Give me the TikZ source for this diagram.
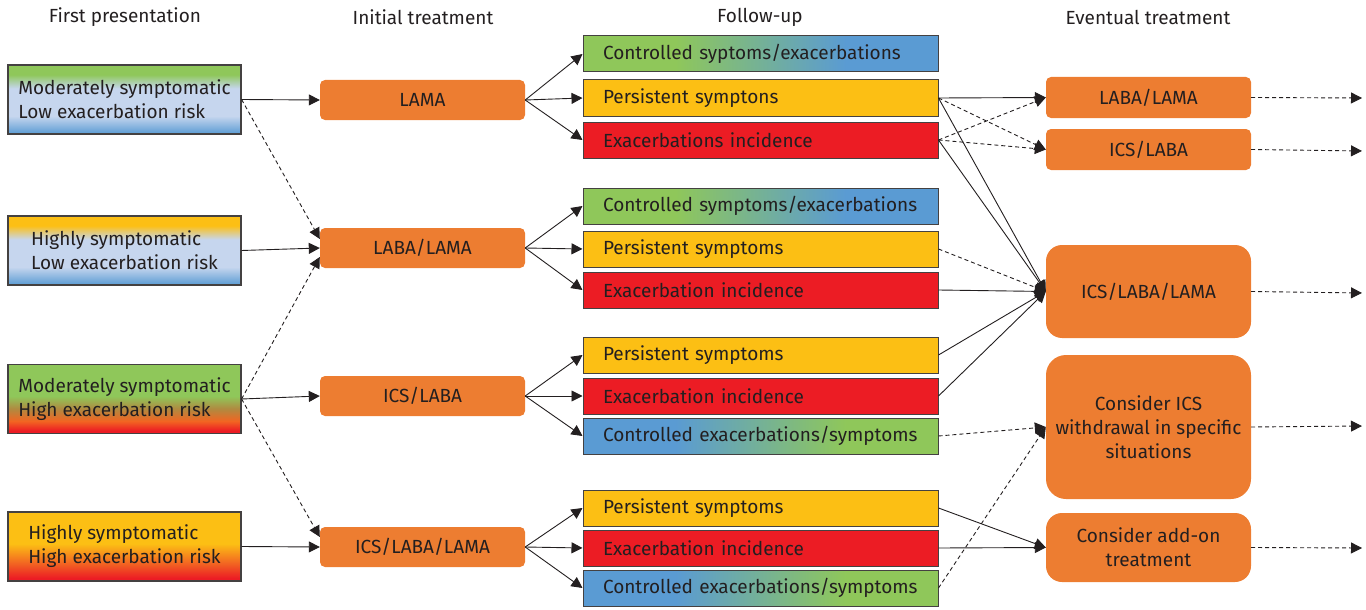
\documentclass[tikz,border=0pt]{standalone}
\usepackage{fontspec}
\setmainfont{Fira Sans}
\usetikzlibrary{calc,arrows.meta}
\definecolor{ink}{HTML}{231F20}
\definecolor{cgreen}{HTML}{8FC75A}
\definecolor{cblue}{HTML}{5A9BD3}
\definecolor{clight}{HTML}{C6D6EE}
\definecolor{cyellow}{HTML}{FCBF14}
\definecolor{cred}{HTML}{EC1C24}
\definecolor{corange}{HTML}{ED7D31}
\definecolor{cbrown}{HTML}{B08A40}
\definecolor{cdeep}{HTML}{F26522}
\pgfdeclareverticalshading{modlow}{100bp}{color(0bp)=(cblue); color(25bp)=(cblue); color(38bp)=(clight); color(58bp)=(clight); color(68bp)=(cgreen); color(100bp)=(cgreen)}
\pgfdeclareverticalshading{highlow}{100bp}{color(0bp)=(cblue); color(25bp)=(cblue); color(38bp)=(clight); color(58bp)=(clight); color(68bp)=(cyellow); color(100bp)=(cyellow)}
\pgfdeclareverticalshading{modhigh}{100bp}{color(0bp)=(cred); color(27bp)=(cred); color(34bp)=(cdeep); color(43bp)=(cbrown); color(52bp)=(cgreen); color(100bp)=(cgreen)}
\pgfdeclareverticalshading{highhigh}{100bp}{color(0bp)=(cred); color(27bp)=(cred); color(38bp)=(cdeep); color(52bp)=(cyellow); color(100bp)=(cyellow)}
\pgfdeclarehorizontalshading{gtob}{100bp}{color(0bp)=(cgreen); color(38bp)=(cgreen); color(62bp)=(cblue); color(100bp)=(cblue)}
\pgfdeclarehorizontalshading{btog}{100bp}{color(0bp)=(cblue); color(38bp)=(cblue); color(62bp)=(cgreen); color(100bp)=(cgreen)}

\begin{document}
\begin{tikzpicture}[x=1pt,y=-1pt,
  every node/.style={font=\fontsize{19}{24}\selectfont, text=ink},
  pres/.style={draw=ink!85, line width=1.2pt, shade, minimum width=233pt, minimum height=69pt, align=left, inner sep=0pt},
  fup/.style={draw=ink!85, line width=1pt, minimum width=355pt, minimum height=36pt, text width=315pt, inner xsep=20pt, inner ysep=0pt, align=left},
  trt/.style={fill=corange, rounded corners=5pt, minimum width=205pt, minimum height=40pt, inner sep=0pt, align=center},
  arr/.style={draw=ink, line width=0.9pt, -{Triangle[length=11pt,width=11pt]}},
  dsh/.style={arr, dash pattern=on 4pt off 3pt}]
\useasboundingbox (0,0) rectangle (1366,610);

% column titles
\node (h1) at (125,17) {First presentation};
\node (h2) at (423,17) {Initial treatment};
\node (h3) at (760,17) {Follow-up};
\node (h4) at (1148,17) {Eventual treatment};

% first presentation
\node[pres, shading=modlow] (p1) at (124.5,99.5) {Moderately symptomatic\\Low exacerbation risk};
\node[pres, shading=highlow] (p2) at (124.5,250.5) {Highly symptomatic\\Low exacerbation risk};
\node[pres, shading=modhigh] (p3) at (124.5,399) {Moderately symptomatic\\High exacerbation risk};
\node[pres, shading=highhigh] (p4) at (124.5,546.5) {Highly symptomatic\\High exacerbation risk};

% initial treatment
\node[trt] (i1) at (422.5,100) {LAMA};
\node[trt] (i2) at (422.5,248) {LABA/LAMA};
\node[trt] (i3) at (422.5,396) {ICS/LABA};
\node[trt] (i4) at (422.5,547) {ICS/LABA/LAMA};

% follow-up
\node[fup, shade, shading=gtob] (a1) at (760.5,54) {Controlled syptoms/exacerbations};
\node[fup, fill=cyellow] (a2) at (760.5,98) {Persistent symptons};
\node[fup, fill=cred] (a3) at (760.5,140) {Exacerbations incidence};
\node[fup, shade, shading=gtob] (b1) at (760.5,206) {Controlled symptoms/exacerbations};
\node[fup, fill=cyellow] (b2) at (760.5,249) {Persistent symptoms};
\node[fup, fill=cred] (b3) at (760.5,290) {Exacerbation incidence};
\node[fup, fill=cyellow] (c1) at (760.5,355) {Persistent symptoms};
\node[fup, fill=cred] (c2) at (760.5,396) {Exacerbation incidence};
\node[fup, shade, shading=btog] (c3) at (760.5,436) {Controlled exacerbations/symptoms};
\node[fup, fill=cyellow] (d1) at (760.5,508) {Persistent symptoms};
\node[fup, fill=cred] (d2) at (760.5,548) {Exacerbation incidence};
\node[fup, shade, shading=btog] (d3) at (760.5,588) {Controlled exacerbations/symptoms};

% eventual treatment
\node[trt, minimum height=41pt] (e1) at (1148.5,97.5) {LABA/LAMA};
\node[trt, minimum height=41pt] (e2) at (1148.5,149.5) {ICS/LABA};
\node[trt, minimum height=93pt, rounded corners=16pt] (e3) at (1148.5,291.5) {ICS/LABA/LAMA};
\node[trt, minimum height=144pt, rounded corners=20pt] (e4) at (1148.5,427) {Consider ICS\\withdrawal in specific\\situations};
\node[trt, minimum height=69pt, rounded corners=16pt] (e5) at (1148.5,547.5) {Consider add-on\\treatment};

\foreach \e/\y in {1/98,2/151,3/293,4/426,5/548}
  \coordinate (r\e) at (1362,\y);

\foreach \k in {1,2,3,4}
  \draw[arr] (p\k.east) -- (i\k.west);
\draw[dsh] (p1.east) -- ($(i2.west)+(0,-9)$);
\draw[dsh] (p3.east) -- ($(i2.west)+(0,9)$);
\draw[dsh] (p3.east) -- ($(i4.west)+(0,-10)$);

\foreach \k/\f in {1/a,2/b,3/c,4/d}
  \foreach \j in {1,2,3}
    \draw[arr] (i\k.east) -- (\f\j.west);

\foreach \s/\t in {a2/e1,a2/e3,a3/e3,b3/e3,c1/e3,c2/e3,d1/e5,d2/e5}
  \draw[arr] (\s.east) -- (\t.west);
\foreach \s/\t in {a2/e2,a3/e1,a3/e2,b2/e3,c3/e4,d3/e4}
  \draw[dsh] (\s.east) -- (\t.west);

\foreach \e in {1,...,5}
  \draw[dsh] (e\e.east) -- (r\e);
\end{tikzpicture}
\end{document}
